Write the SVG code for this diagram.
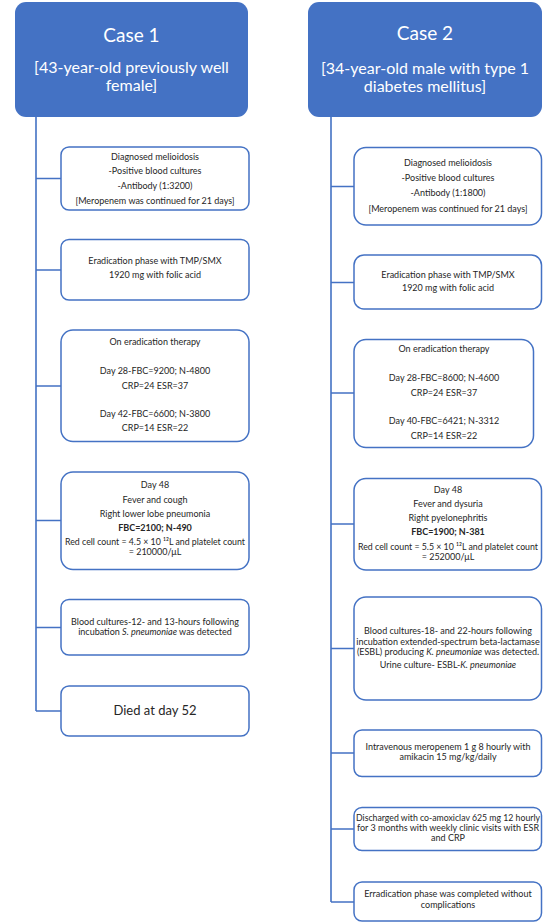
<svg xmlns="http://www.w3.org/2000/svg" width="550" height="924" viewBox="0 0 550 924">
<style>
.hdr{fill:#4472C4;}
.box{fill:#FFFFFF;stroke:#4472C4;stroke-width:1.5;}
.con{stroke:#4472C4;stroke-width:1.6;fill:none;}
.t{font-family:Lato,"Open Sans","Liberation Sans",sans-serif;font-size:9px;fill:#262626;text-anchor:middle;}
.b{font-weight:bold;}
.i{font-style:italic;}
.big{font-size:13px;}
.h1{font-family:Lato,"Open Sans","Liberation Sans",sans-serif;font-size:19px;fill:#FFFFFF;text-anchor:middle;}
.h2{font-family:Lato,"Open Sans","Liberation Sans",sans-serif;font-size:16px;fill:#FFFFFF;text-anchor:middle;}
</style>
<rect width="550" height="924" fill="#FFFFFF"/>
<g id="connectors">
<path class="con" d="M36 117 V711 M36 178.5 H61 M36 270 H61 M36 386 H61 M36 520.5 H61 M36 627.5 H61 M36 711 H61"/>
<path class="con" d="M331 117 V902 M331 186.5 H354 M331 282.5 H354 M331 393 H354 M331 524 H354 M331 648.5 H354 M331 753 H354 M331 829 H354 M331 902 H354"/>
</g>
<g id="case1">
<rect class="hdr" x="15" y="2" width="233" height="115" rx="11"/>
<text class="h1" x="131.5" y="42">Case 1</text>
<text class="h2" x="131.5" y="73">[43-year-old previously well</text>
<text class="h2" x="131.5" y="91">female]</text>
</g>
<g id="case2">
<rect class="hdr" x="308" y="2" width="234" height="115" rx="11"/>
<text class="h1" x="425" y="40">Case 2</text>
<text class="h2" x="425" y="74">[34-year-old male with type 1</text>
<text class="h2" x="425" y="92">diabetes mellitus]</text>
</g>
<g id="c1-diagnosed">
<rect class="box" x="61" y="147" width="188" height="63" rx="8"/>
<text class="t" x="155" y="159.5">Diagnosed melioidosis</text>
<text class="t" x="155" y="174">-Positive blood cultures</text>
<text class="t" x="155" y="189">-Antibody (1:3200)</text>
<text class="t" x="155" y="203.5">[Meropenem was continued for 21 days]</text>
</g>
<g id="c1-eradication">
<rect class="box" x="61" y="239.5" width="188" height="60.5" rx="8"/>
<text class="t" x="155" y="263.5">Eradication phase with TMP/SMX</text>
<text class="t" x="155" y="278">1920 mg with folic acid</text>
</g>
<g id="c1-therapy">
<rect class="box" x="61" y="330" width="188" height="111.5" rx="12"/>
<text class="t" x="155" y="345">On eradication therapy</text>
<text class="t" x="155" y="374">Day 28-FBC=9200; N-4800</text>
<text class="t" x="155" y="388.5">CRP=24 ESR=37</text>
<text class="t" x="155" y="416.5">Day 42-FBC=6600; N-3800</text>
<text class="t" x="155" y="431">CRP=14 ESR=22</text>
</g>
<g id="c1-day48">
<rect class="box" x="61" y="472" width="188" height="97.5" rx="12"/>
<text class="t" x="155" y="487.5">Day 48</text>
<text class="t" x="155" y="502.5">Fever and cough</text>
<text class="t" x="155" y="517">Right lower lobe pneumonia</text>
<text class="t b" x="155" y="530.5">FBC=2100; N-490</text>
<text class="t" x="155" y="545" textLength="180" lengthAdjust="spacingAndGlyphs">Red cell count = 4.5 × 10 ¹²L and platelet count</text>
<text class="t" x="155" y="554.5">= 210000/μL</text>
</g>
<g id="c1-cultures">
<rect class="box" x="61" y="599.5" width="188" height="55.5" rx="8"/>
<text class="t" x="155" y="624.5">Blood cultures-12- and 13-hours following</text>
<text class="t" x="155" y="635">incubation <tspan class="i">S. pneumoniae</tspan> was detected</text>
</g>
<g id="c1-died">
<rect class="box" x="61" y="686" width="188" height="50" rx="8"/>
<text class="t big" x="155" y="714.5">Died at day 52</text>
</g>
<g id="c2-diagnosed">
<rect class="box" x="354" y="147.5" width="187.5" height="77.5" rx="12"/>
<text class="t" x="448" y="166">Diagnosed melioidosis</text>
<text class="t" x="448" y="181">-Positive blood cultures</text>
<text class="t" x="448" y="196">-Antibody (1:1800)</text>
<text class="t" x="448" y="211.5">[Meropenem was continued for 21 days]</text>
</g>
<g id="c2-eradication">
<rect class="box" x="354" y="255" width="187.5" height="54" rx="10"/>
<text class="t" x="448" y="277.5">Eradication phase with TMP/SMX</text>
<text class="t" x="448" y="291">1920 mg with folic acid</text>
</g>
<g id="c2-therapy">
<rect class="box" x="354" y="339.5" width="179.5" height="108" rx="12"/>
<text class="t" x="444" y="351.5">On eradication therapy</text>
<text class="t" x="444" y="380.5">Day 28-FBC=8600; N-4600</text>
<text class="t" x="444" y="395.5">CRP=24 ESR=37</text>
<text class="t" x="444" y="423.5">Day 40-FBC=6421; N-3312</text>
<text class="t" x="444" y="438.5">CRP=14 ESR=22</text>
</g>
<g id="c2-day48">
<rect class="box" x="354" y="478.5" width="187.5" height="91.5" rx="12"/>
<text class="t" x="448" y="492.5">Day 48</text>
<text class="t" x="448" y="506.5">Fever and dysuria</text>
<text class="t" x="448" y="521">Right pyelonephritis</text>
<text class="t b" x="448" y="535">FBC=1900; N-381</text>
<text class="t" x="448" y="550" textLength="180" lengthAdjust="spacingAndGlyphs">Red cell count = 5.5 × 10 ¹²L and platelet count</text>
<text class="t" x="448" y="559.5">= 252000/μL</text>
</g>
<g id="c2-cultures">
<rect class="box" x="354" y="597" width="187.5" height="103" rx="12"/>
<text class="t" x="448" y="633.5">Blood cultures-18- and 22-hours following</text>
<text class="t" x="448" y="644.5">incubation extended-spectrum beta-lactamase</text>
<text class="t" x="448" y="655">(ESBL) producing <tspan class="i">K. pneumoniae</tspan> was detected.</text>
<text class="t" x="448" y="667.5">Urine culture- ESBL-<tspan class="i">K. pneumoniae</tspan></text>
</g>
<g id="c2-meropenem">
<rect class="box" x="354" y="730" width="187.5" height="46.5" rx="8"/>
<text class="t" x="448" y="749.5">Intravenous meropenem 1 g 8 hourly with</text>
<text class="t" x="448" y="760">amikacin 15 mg/kg/daily</text>
</g>
<g id="c2-discharged">
<rect class="box" x="354" y="807.5" width="187.5" height="43" rx="8"/>
<text class="t" x="448" y="821" textLength="184" lengthAdjust="spacingAndGlyphs">Discharged with co-amoxiclav 625 mg 12 hourly</text>
<text class="t" x="448" y="831">for 3 months with weekly clinic visits with ESR</text>
<text class="t" x="448" y="841">and CRP</text>
</g>
<g id="c2-completed">
<rect class="box" x="354" y="882" width="187.5" height="39" rx="8"/>
<text class="t" x="448" y="897">Erradication phase was completed without</text>
<text class="t" x="448" y="907.5">complications</text>
</g>
</svg>
